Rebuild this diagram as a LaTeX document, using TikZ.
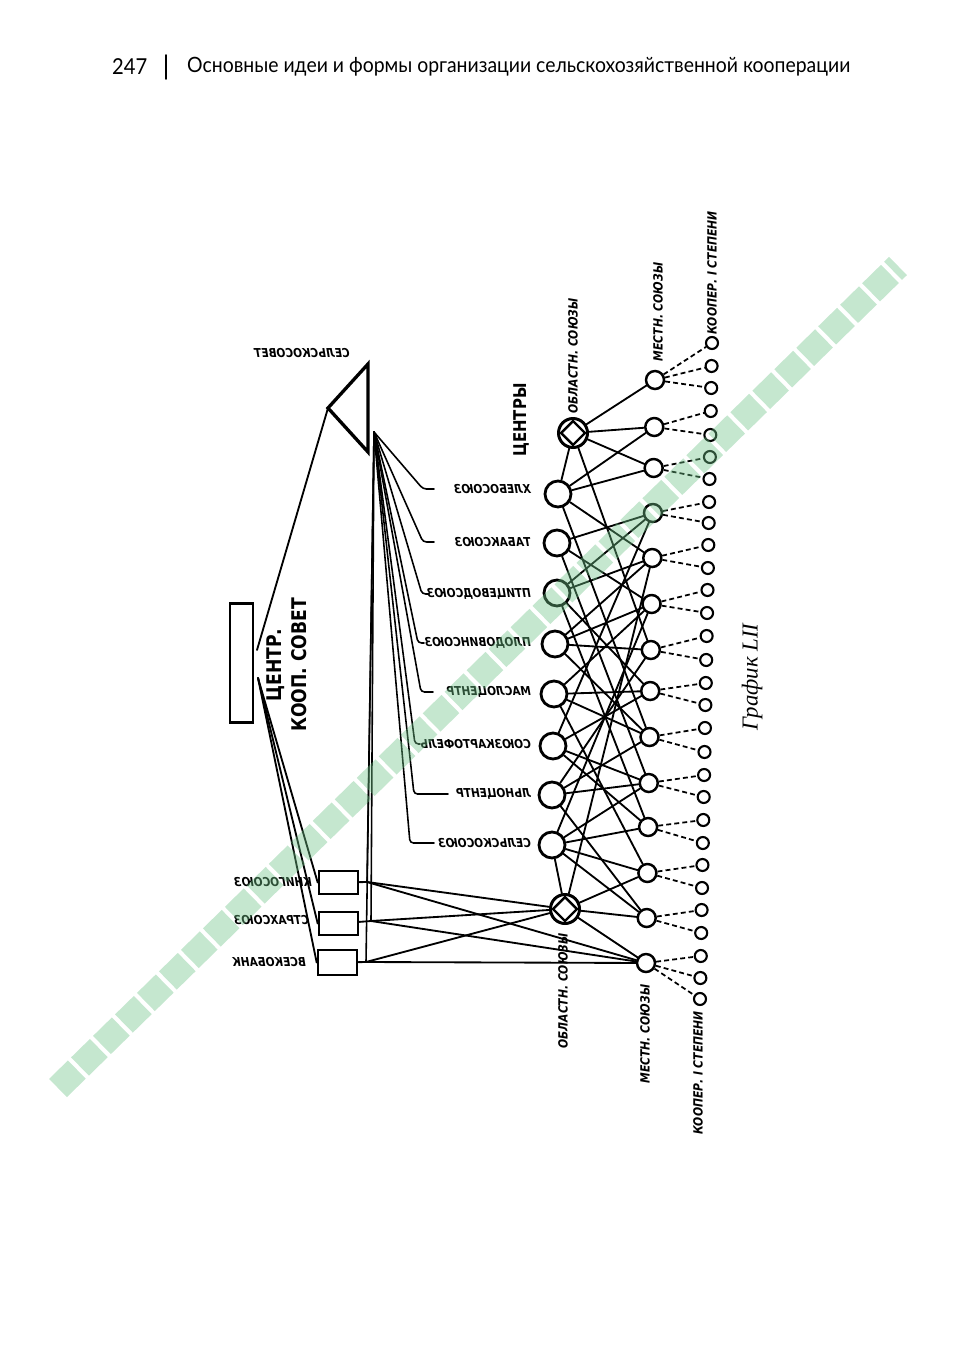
\documentclass[tikz,border=0pt]{standalone}
\usepackage{fontspec}
\setmainfont{Lato}
\newfontfamily\hdrfont{Lato}[FakeStretch=0.92]
\newfontfamily\lab{DejaVu Sans}[FakeStretch=0.85]
\newfontfamily\grafont{Liberation Serif}
\usetikzlibrary{shapes.geometric}
\definecolor{wmgreen}{RGB}{110,195,135}
\begin{document}
\begin{tikzpicture}[x=0.02cm, y=-0.02cm, line cap=round]
  \tikzstyle{cen}=[circle,draw,line width=1.6pt,minimum size=0.52cm,inner sep=0pt]
  \tikzstyle{obl}=[circle,draw,line width=1.7pt,minimum size=0.58cm,inner sep=0pt]
  \tikzstyle{dia}=[diamond,draw,line width=1.4pt,minimum size=0.5cm,inner sep=0pt]
  \tikzstyle{loc}=[circle,draw,line width=1.4pt,minimum size=0.36cm,inner sep=0pt]
  \tikzstyle{coop}=[circle,draw,line width=1.2pt,minimum size=0.24cm,inner sep=0pt]
  \tikzstyle{box}=[draw,line width=1.5pt,minimum width=0.78cm,minimum height=0.46cm,inner sep=0pt]
  \tikzstyle{link}=[line width=1.05pt]
  \tikzstyle{fanline}=[line width=0.9pt,rounded corners=2pt]
  \tikzstyle{dlink}=[line width=1pt,line cap=butt,dash pattern=on 2.8pt off 1.8pt]
  \tikzstyle{mir}=[xscale=-1,anchor=west,inner sep=1pt,font=\lab\bfseries\itshape\fontsize{7}{8}\selectfont]
  \tikzstyle{vlab}=[rotate=90,inner sep=1pt,font=\lab\bfseries\itshape\fontsize{7.2}{8}\selectfont]
  \tikzstyle{wm}=[line width=14.5pt,line cap=butt,dash pattern=on 15pt off 2.5pt,draw=wmgreen,draw opacity=0.4]
  \useasboundingbox (0,0) rectangle (959,1348);

  \node[anchor=west,font=\hdrfont\fontsize{12.5}{14}\selectfont] (pgno) at (106,67) {247};
  \draw[line width=1pt] (166,55) -- (166,79);
  \node[anchor=west,font=\hdrfont\fontsize{12}{14}\selectfont] (hdr) at (181,67) {Основные идеи и формы организации сельскохозяйственной кооперации};

  \node[draw,line width=1.5pt,minimum width=0.46cm,minimum height=2.38cm,inner sep=0pt] (cks) at (241.5,663) {};
  \node[rotate=90,align=center,font=\lab\bfseries\fontsize{11.5}{14}\selectfont] (ckstxt) at (287,665) {ЦЕНТР.\\КООП. СОВЕТ};
  \coordinate (cA) at (257,650);
  \coordinate (cB) at (258,678);

  \coordinate (tl) at (328,408);
  \coordinate (tt) at (368,364);
  \coordinate (tb) at (368,452);
  \draw[line width=1.9pt,line join=miter] (tl) -- (tt) -- (tb) -- cycle;
  \node[mir,anchor=center] (sslab) at (302,353) {СЕЛЬСКОСОВЕТ};
  \coordinate (fan) at (374,432);
  \draw[link] (cA) -- (tl);

  \node[box] (b1) at (338.5,882.5) {};
  \node[box] (b2) at (338.5,923.5) {};
  \node[box,minimum height=0.5cm] (b3) at (337.5,962.5) {};
  \node[mir] (lb1) at (314,882) {КНИГОСОЮЗ};
  \node[mir] (lb2) at (311,920) {СТРАХСОЮЗ};
  \node[mir] (lb3) at (308,962) {ВСЕКОБАНК};
  \foreach \b in {b1,b2,b3}
    \draw[link] (cB) -- (\b.west);

  \node[obl] (r1) at (573,433) {};
  \node[cen] (c1) at (558,494) {};
  \node[cen] (c2) at (557,543) {};
  \node[cen] (c3) at (557,593) {};
  \node[cen] (c4) at (555,644) {};
  \node[cen] (c5) at (554,694) {};
  \node[cen] (c6) at (553,746) {};
  \node[cen] (c7) at (552,795) {};
  \node[cen] (c8) at (552,845) {};
  \node[obl] (r2) at (565,909) {};
  \node[dia] (r1d) at (r1) {};
  \node[dia] (r2d) at (r2) {};

  \foreach \y [count=\i] in {380,427,468,513,558,604,650,691,737,783,827,873,918,963}
    \node[loc] (m\i) at ({655-(\y-380)*9/583},\y) {};
  \foreach \y [count=\i] in {343,366,388,411,435,457,479,502,523,545,568,590,613,636,660,683,705,728,752,775,797,820,843,865,888,910,933,956,978,999}
    \node[coop] (k\i) at ({712-(\y-343)*12/655},\y) {};

  \foreach \a/\b in {1/1,1/2,1/3,14/28,14/29,14/30}
    \draw[dlink] (m\a) -- (k\b);
  \foreach \i [evaluate=\i as \ka using int(2*\i), evaluate=\i as \kb using int(2*\i+1)] in {2,...,13} {
    \draw[dlink] (m\i) -- (k\ka);
    \draw[dlink] (m\i) -- (k\kb);
  }

  \foreach \a/\b in {r1/m1,r1/m2,r1/m3,r1/m7,r1/c1,
      c1/m2,c1/m3,c1/m5,c1/m9, c2/m4,c2/m6,c2/m10, c3/m4,c3/m5,c3/m8,c3/m11,
      c4/m5,c4/m6,c4/m7,c4/m9, c5/m6,c5/m8,c5/m9,c5/m12, c6/m4,c6/m8,c6/m10,c6/m11,
      c7/m7,c7/m9,c7/m10,c7/m13, c8/m6,c8/m10,c8/m11,c8/m12,c8/m13,
      r2/c8,r2/m5,r2/m12,r2/m13,r2/m14}
    \draw[link] (\a) -- (\b);

  \foreach \n/\y/\hx/\ex/\t in {1/489/423/434/ХЛЕБОСОЮЗ, 2/542/423/434/ТАБАКСОЮЗ,
      3/594/422/428/ПТИЦЕВОДСОЮЗ, 4/643/418/424/ПЛОДОВИНСОЮЗ, 5/692/421/433/МАСЛОЦЕНТР,
      6/744/415/420/СОЮЗКАРТОФЕЛЬ, 7/794/414/448/ЛЬНОЦЕНТР, 8/843/410/434/СЕЛЬСКОСОЮЗ} {
    \node[mir] (l\n) at (533,\y) {\t};
    \coordinate (h\n) at (\hx,\y);
    \coordinate (e\n) at (\ex,\y);
    \draw[fanline] (fan) -- (h\n) -- (e\n);
  }

  \coordinate (j1) at (367,882);
  \coordinate (j2) at (371,921);
  \coordinate (j3) at (366,962);
  \foreach \b/\j in {b1/j1,b2/j2,b3/j3} {
    \draw[link] (\b) -- (\j);
    \draw[fanline] (fan) -- (\j);
    \draw[link] (\j) -- (r2);
    \draw[link] (\j) -- (m14);
  }

  \node[vlab] (tobl) at (573,356) {ОБЛАСТН. СОЮЗЫ};
  \node[vlab] (tmes) at (658,312) {МЕСТН. СОЮЗЫ};
  \node[vlab] (tkoop) at (712,273) {КООПЕР. I СТЕПЕНИ};
  \node[vlab] (bobl) at (563,991) {ОБЛАСТН. СОЮЗЫ};
  \node[vlab] (bmes) at (645,1034) {МЕСТН. СОЮЗЫ};
  \node[vlab] (bkoop) at (698,1073) {КООПЕР. I СТЕПЕНИ};
  \node[rotate=90,font=\lab\bfseries\fontsize{10}{12}\selectfont] (centry) at (521,420) {ЦЕНТРЫ};
  \node[rotate=90,font=\grafont\itshape\fontsize{13}{15}\selectfont] (graf) at (752,677) {График LII};

  \coordinate (wa) at (58,1088);
  \coordinate (wb) at (898,266);
  \draw[wm] (wa) -- (wb);
\end{tikzpicture}
\end{document}
